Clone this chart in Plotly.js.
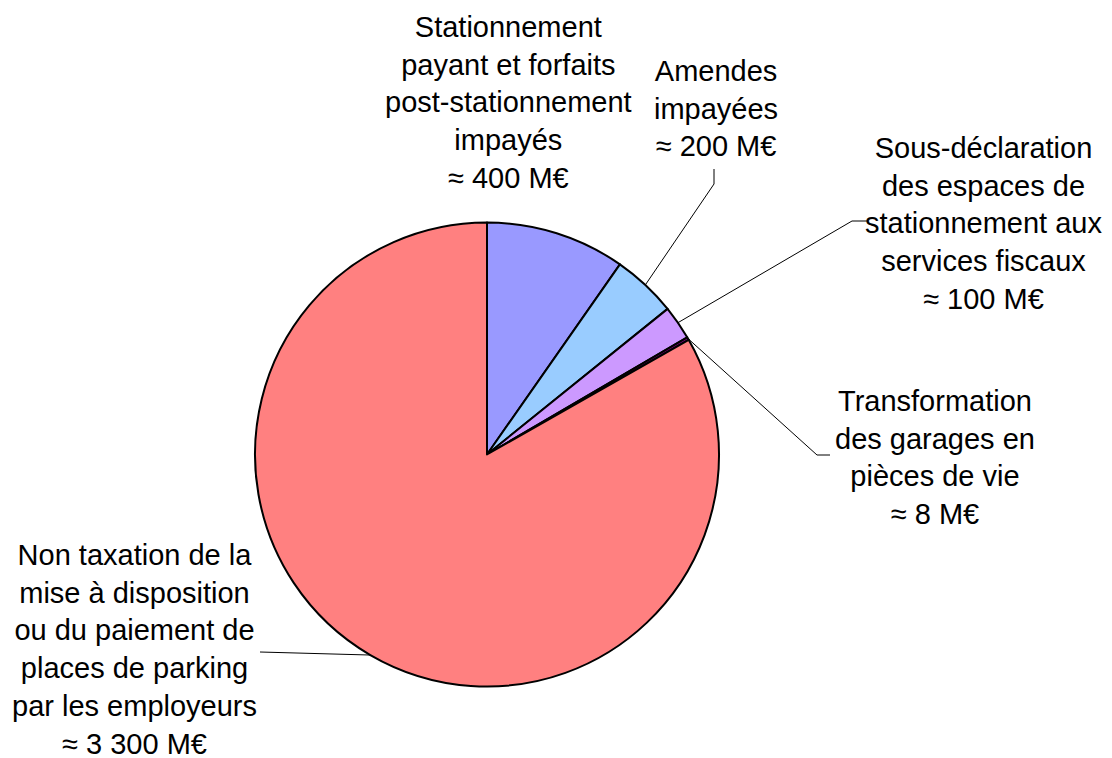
<!DOCTYPE html>
<html>
<head>
<meta charset="utf-8">
<script src="https://cdn.plot.ly/plotly-3.0.1.min.js"></script>
<style>html,body{margin:0;padding:0;background:#fff;}#chart{width:1112px;height:758px;}</style>
</head>
<body>
<div id="chart"></div>
<script>
// ---- data ----
const categories = [
  "Stationnement payant et forfaits post-stationnement impayés",
  "Amendes impayées",
  "Sous-déclaration des espaces de stationnement aux services fiscaux",
  "Transformation des garages en pièces de vie",
  "Non taxation de la mise à disposition ou du paiement de places de parking par les employeurs"
];
const values = [385, 178, 94, 8, 3300];
const labelTexts = [
  "Stationnement<br>payant et forfaits<br>post-stationnement<br>impayés<br>≈ 400 M€",
  "Amendes<br>impayées<br>≈ 200 M€",
  "Sous-déclaration<br>des espaces de<br>stationnement aux<br>services fiscaux<br>≈ 100 M€",
  "Transformation<br>des garages en<br>pièces de vie<br>≈ 8 M€",
  "Non taxation de la<br>mise à disposition<br>ou du paiement de<br>places de parking<br>par les employeurs<br>≈ 3 300 M€"
];
const colors = ["#9999FF", "#99CCFF", "#CC99FF", "#800080", "#FF8080"];

// ---- layout config (pixels) ----
const W = 1112, H = 758;
const CX = 487, CY = 454.5, R = 232;
const labelPos = [[508, 103], [716, 109], [983, 223], [935, 457], [134, 649]];
// leader line bends/ends for each label (null = no leader)
const leaderPts = [null, [[714, 184], [714, 169]], [[852, 221], [868, 221]], [[817, 455], [830, 455]], [[260, 652]]];

const px = x => x / W, py = y => 1 - y / H;

const total = values.reduce((a, b) => a + b, 0);
let cum = 0;
const shapes = [];
values.forEach((v, i) => {
  const mid = (cum + v / 2) / total * 2 * Math.PI;
  cum += v;
  if (!leaderPts[i]) return;
  let prev = [CX + R * Math.sin(mid), CY - R * Math.cos(mid)];
  leaderPts[i].forEach(p => {
    shapes.push({type: 'line', xref: 'paper', yref: 'paper',
      x0: px(prev[0]), y0: py(prev[1]), x1: px(p[0]), y1: py(p[1]),
      line: {color: '#000', width: 1}});
    prev = p;
  });
});

const annotations = labelTexts.map((t, i) => ({
  text: t, xref: 'paper', yref: 'paper',
  x: px(labelPos[i][0]), y: py(labelPos[i][1]),
  xanchor: 'center', yanchor: 'middle', align: 'center', showarrow: false,
  borderpad: 0,
  font: {family: 'Liberation Sans, Arial, sans-serif', size: 29, color: '#000'}
}));

const trace = {
  type: 'pie',
  labels: categories,
  values: values,
  sort: false,
  direction: 'clockwise',
  rotation: 0,
  textinfo: 'none',
  hoverinfo: 'none',
  marker: {colors: colors, line: {color: '#000', width: 2}},
  domain: {x: [px(CX - R), px(CX + R)], y: [py(CY + R), py(CY - R)]},
  showlegend: false
};

Plotly.newPlot('chart', [trace], {
  width: W, height: H,
  margin: {l: 0, r: 0, t: 0, b: 0},
  paper_bgcolor: '#fff', plot_bgcolor: '#fff',
  showlegend: false,
  shapes: shapes,
  annotations: annotations
}, {displayModeBar: false, staticPlot: true});
</script>
</body>
</html>
